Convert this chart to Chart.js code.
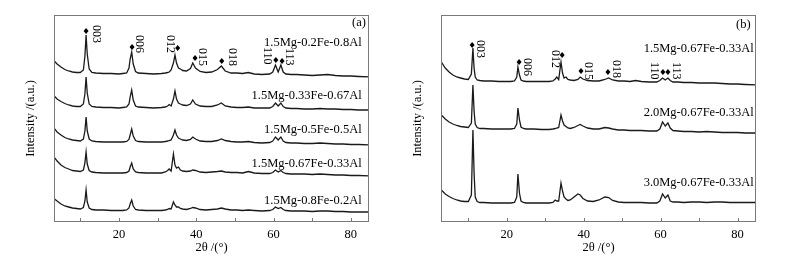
<!DOCTYPE html>
<html>
<head>
<meta charset="utf-8">
<script src="https://cdn.jsdelivr.net/npm/chart.js@4.4.0/dist/chart.umd.min.js"></script>
<style>
  body { margin: 0; background: #fff; }
  #wrap { position: relative; width: 787px; height: 263px; }
  canvas { position: absolute; top: 0; }
</style>
</head>
<body>
<div id="wrap">
  <canvas id="xrdA" width="390" height="263" style="left:0"></canvas>
  <canvas id="xrdB" width="397" height="263" style="left:390px"></canvas>
</div>
<script>
// 2theta grid (deg), shared by all patterns
const twoTheta = [3, 4, 5, 6, 7, 8, 9, 10,
  10.8, 11.2, 11.5, 11.8, 12.3, 13, 14,
  16, 18, 20, 21, 22,
  22.6, 22.9, 23.3, 23.7, 24.3, 25,
  27, 29, 31, 32,
  32.6, 33.0, 33.5, 34.1, 34.5, 34.9, 35.4, 35.9, 36.5, 37.5,
  38.5, 39.1, 39.8, 41, 42.5, 44, 45.5, 46.5, 47.5, 49,
  50.5, 52, 53.5, 55, 57, 59,
  59.8, 60.5, 61.2, 61.9, 62.5, 63.2,
  64.5, 66, 68, 70, 72, 74, 76, 78, 80, 82, 85];

// panel (a)
const namesA = ['1.5Mg-0.2Fe-0.8Al', '1.5Mg-0.33Fe-0.67Al', '1.5Mg-0.5Fe-0.5Al', '1.5Mg-0.67Fe-0.33Al', '1.5Mg-0.8Fe-0.2Al'];
const offsetsA = [146, 113, 79, 48, 11];
const intA1 = [16, 12, 9, 6.5, 5, 4, 3.5, 3.5,
  6, 20, 41, 22, 7, 3.5, 3,
  2.5, 2.5, 2, 2.5, 3,
  8, 17, 24, 12, 4.5, 3,
  2.5, 2, 2.5, 3,
  3.5, 4, 6, 13, 21, 13, 8, 7, 5.5, 5,
  7.5, 13, 8, 4.5, 3.5, 4, 6.5, 10, 5, 3,
  3, 2.5, 3.5, 2, 1.5, 2,
  4, 11, 4, 11, 4, 2,
  1.5, 1.5, 1, 0.5, 1, 1.5, 0.5, 0, 0, -0.5, -1];
const intA2 = [14, 10, 7.5, 5.5, 4, 3, 2.5, 2.5,
  5, 15, 32, 16, 5, 2.5, 2,
  1.5, 1.5, 1, 1.5, 2,
  5, 12, 19, 9, 3, 2,
  1.5, 1, 1.5, 2,
  3, 4.5, 3, 10, 18, 10, 6, 5, 4, 3.5,
  5, 9, 5, 3, 2.5, 2.5, 4, 6, 3, 2,
  1.5, 1.5, 2, 1, 1, 1,
  2.5, 6, 3, 6, 2.5, 1,
  0.5, 0.5, 0, 0, 0.5, 0, 0, -0.5, -0.5, -1, -1];
const intA3 = [16, 11, 8, 5.5, 4, 3, 2.5, 2,
  4, 12, 26, 12, 4, 2, 1.5,
  1, 1, 1, 1, 1.5,
  3.5, 8, 14, 7, 2.5, 1.5,
  1, 1, 1, 1.5,
  2, 2.5, 3, 8, 13, 8, 5, 4, 3, 2.5,
  3.5, 6, 4, 2, 1.5, 1.5, 2.5, 4, 2.5, 1.5,
  1, 1, 1.5, 0.5, 0, 0.5,
  2, 6, 3, 6, 2, 0.5,
  0, 0, -0.5, -0.5, 0, -0.5, -1, -1, -1.5, -1.5, -2];
const intA4 = [18, 13, 9, 6.5, 5, 3.5, 3, 2.5,
  4, 11, 22, 10, 3.5, 2, 1.5,
  1, 1, 1, 1, 1.5,
  3, 7, 11, 5, 2, 1.5,
  1, 1, 1, 2,
  3.5, 5, 3, 20, 9, 6, 7, 4, 3, 2.5,
  3, 4, 3.5, 2, 1.5, 2, 2.5, 3, 2, 1.5,
  1.5, 1, 2.5, 1, 0.5, 0.5,
  1.5, 4, 2, 3.5, 1.5, 0.5,
  0, 0, 0, -0.5, 0, -0.5, -1, -1, -1.5, -1.5, -2];
const intA5 = [13, 10, 7, 5, 4, 3, 2.5, 2,
  3.5, 10, 21, 9, 3, 1.5, 1,
  1, 0.5, 0.5, 0.5, 1,
  3, 7, 11, 5, 1.5, 1,
  0.5, 0.5, 0.5, 1,
  1.5, 2.5, 2, 9, 6, 4, 4, 2.5, 2, 1.5,
  2.5, 3.5, 3, 1.5, 1, 1.5, 2, 3, 2, 1,
  1, 0.5, 1, 0.5, 0, 0.5,
  1.5, 4, 2.5, 3.5, 1.5, 0.5,
  0, 0, 0, -0.5, 0, 0, -0.5, -0.5, -1, -1, -1];

// panel (b)
const namesB = ['1.5Mg-0.67Fe-0.33Al', '2.0Mg-0.67Fe-0.33Al', '3.0Mg-0.67Fe-0.33Al'];
const offsetsB = [140, 93, 19];
const intB1 = [20, 14, 10, 7, 5, 4, 3, 2.5,
  8, 34, 14, 5, 2, 1.5, 1,
  1, 0.5, 0.5, 0.5, 1,
  5, 15, 7, 2, 1, 0.5,
  0.5, 0.5, 0.5, 1,
  3, 5, 2.5, 20, 9, 4, 5, 2.5, 2, 1.5,
  2.5, 5, 3, 1.5, 1, 1, 2.5, 4, 2, 1,
  1, 0.5, 1.5, 0.5, 0, 0,
  1.5, 4, 2, 4, 1.5, 0,
  0, -0.5, -0.5, -1, -1, -1, -1.5, -2, -2, -2.5, -3];
const intB2 = [14, 10, 7, 5, 3.5, 2.5, 2, 1.5,
  6, 44, 18, 5, 1.5, 0.5, 0.5,
  0, 0, 0, 0, 0.5,
  5, 21, 9, 2, 0.5, 0,
  0, -0.5, -0.5, 0,
  0.5, 1, 1.5, 14, 8, 4, 2.5, 1, 0.5, 1.5,
  3.5, 4.5, 3, 1, 0, 0, 1.5, 1, 0, -1,
  -1, -1.5, -1.5, -1.5, -2, -2,
  0, 7, 3, 6, 1, -1.5,
  -2, -2.5, -2.5, -3, -2.5, -3, -3.5, -3.5, -3.5, -4, -4];
const intB3 = [13, 9, 6.5, 4.5, 3, 2, 1.5, 1.5,
  8, 73, 30, 6, 1.5, 0.5, 0.5,
  0, 0, 0, 0, 0.5,
  6, 29, 10, 2, 0.5, 0,
  0, 0, 0, 0.5,
  3, 2, 2, 20, 12, 6, 4, 2.5, 3, 6,
  9, 8, 4.5, 2, 1.5, 3, 6, 5.5, 2.5, 1,
  0.5, 0.5, 0.5, 0.5, 0, 0,
  2, 9, 5, 8, 2, 1,
  1, 0.5, 1, 1, 0.5, 1, 1, 0.5, 0.5, 0.5, 0.5];

const hkl = ['003', '006', '012', '015', '018', '110', '113'];
const xTicks = [10, 20, 30, 40, 50, 60, 70, 80];
const xLabelTicks = [20, 40, 60, 80];

const serif = '"Liberation Serif", "Times New Roman", serif';

const xrdMarks = {
  id: 'xrdMarks',
  afterDatasetsDraw(chart, args, o) {
    const { ctx, chartArea: a, scales: { x, y } } = chart;
    ctx.save();
    ctx.strokeStyle = '#7a7a7a';
    ctx.lineWidth = 1;
    ctx.strokeRect(a.left + 0.5, a.top + 0.5, a.right - a.left - 1, a.bottom - a.top - 1);
    ctx.beginPath();
    xTicks.forEach(v => {
      const px = Math.round(x.getPixelForValue(v)) + 0.5;
      ctx.moveTo(px, a.bottom);
      ctx.lineTo(px, a.bottom - 4);
    });
    ctx.stroke();

    ctx.fillStyle = '#000';
    o.diamonds.forEach(d => {
      const px = x.getPixelForValue(d[0]), py = y.getPixelForValue(d[1]);
      ctx.beginPath();
      ctx.moveTo(px, py - 3);
      ctx.lineTo(px + 2.5, py);
      ctx.lineTo(px, py + 3);
      ctx.lineTo(px - 2.5, py);
      ctx.closePath();
      ctx.fill();
    });

    ctx.font = '12px ' + serif;
    ctx.textAlign = 'left';
    ctx.textBaseline = 'middle';
    o.hklAt.forEach((p, i) => {
      ctx.save();
      ctx.translate(x.getPixelForValue(p[0]), y.getPixelForValue(p[1]));
      ctx.rotate(Math.PI / 2);
      ctx.fillText(hkl[i], 0, 0);
      ctx.restore();
    });

    ctx.font = '12.5px ' + serif;
    ctx.textAlign = 'right';
    o.names.forEach((n, i) => {
      ctx.fillText(n, x.getPixelForValue(o.nameX), y.getPixelForValue(o.nameY[i]));
    });
    ctx.fillText(o.tag, x.getPixelForValue(o.tagAt[0]), y.getPixelForValue(o.tagAt[1]));
    ctx.restore();
  }
};

function makeChart(id, names, series, offsets, cfg) {
  const datasets = series.map((s, k) => ({
    label: names[k],
    data: twoTheta.map((t, i) => ({ x: t, y: s[i] + offsets[k] })),
    borderColor: '#1a1a1a',
    borderWidth: 1.3,
    pointRadius: 0,
    tension: 0,
    fill: false
  }));
  return new Chart(document.getElementById(id), {
    type: 'line',
    data: { datasets },
    plugins: [xrdMarks],
    options: {
      responsive: false,
      animation: false,
      events: [],
      layout: { padding: { left: 0, top: 15, right: cfg.padRight, bottom: 0 } },
      plugins: {
        legend: { display: false },
        tooltip: { enabled: false },
        xrdMarks: cfg.marks
      },
      scales: {
        x: {
          type: 'linear',
          min: cfg.xMin,
          max: cfg.xMax,
          afterBuildTicks: s => { s.ticks = xTicks.map(v => ({ value: v })); },
          afterFit: s => { s.height = 41; },
          grid: { display: false, drawTicks: false },
          border: { display: false },
          ticks: {
            padding: 5,
            color: '#000',
            font: { family: serif, size: 12.5 },
            maxRotation: 0,
            callback: v => xLabelTicks.includes(v) ? String(v) : ''
          },
          title: {
            display: true,
            text: '2θ /(°)',
            color: '#000',
            font: { family: serif, size: 12.5 },
            padding: { top: 0, bottom: 8 }
          }
        },
        y: {
          min: 0,
          max: 207,
          afterFit: s => { s.width = cfg.yWidth; },
          grid: { display: false, drawTicks: false },
          border: { display: false },
          ticks: { display: false },
          title: {
            display: true,
            text: 'Intensity /(a.u.)',
            color: '#000',
            font: { family: serif, size: 12.5 },
            padding: { top: cfg.yTitlePad, bottom: 0 }
          }
        }
      }
    }
  });
}

makeChart('xrdA', namesA, [intA1, intA2, intA3, intA4, intA5], offsetsA, {
  xMin: 3.2, xMax: 84.7, padRight: 21, yWidth: 54, yTitlePad: 23,
  marks: {
    diamonds: [[11.5, 191], [23.4, 175], [35.2, 174], [39.7, 164], [46.6, 161], [60.6, 162], [62.2, 161]],
    hklAt: [[14.0, 197], [25.2, 187], [33.2, 187], [41.5, 174], [49.2, 174], [58.3, 175], [64.0, 174]],
    names: namesA,
    nameX: 82.8,
    nameY: [179, 126, 92, 58, 21],
    tag: '(a)',
    tagAt: [83.9, 199]
  }
});

makeChart('xrdB', namesB, [intB1, intB2, intB3], offsetsB, {
  xMin: 2.9, xMax: 84.8, padRight: 31, yWidth: 51, yTitlePad: 20,
  marks: {
    diamonds: [[11.0, 177], [23.2, 160], [34.4, 167], [39.3, 151], [46.3, 150], [60.6, 150], [61.9, 150]],
    hklAt: [[13.1, 182], [25.3, 164], [32.5, 172], [41.1, 160], [48.4, 162], [58.3, 160], [64.0, 160]],
    names: namesB,
    nameX: 84.2,
    nameY: [173, 109, 39],
    tag: '(b)',
    tagAt: [83.4, 197]
  }
});
</script>
</body>
</html>
